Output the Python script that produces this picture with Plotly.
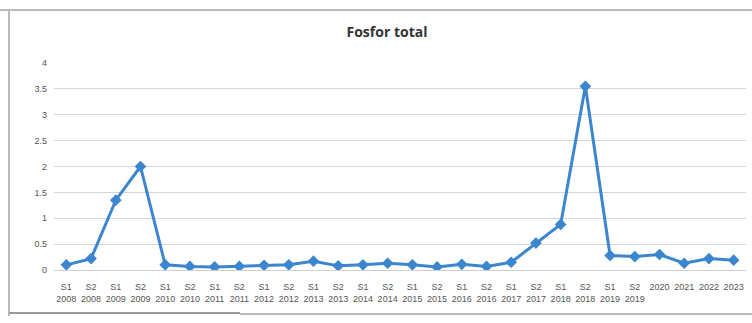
import plotly.graph_objects as go

# Sampling periods (half-years until 2019, then yearly)
periods = [
    "S1<br>2008", "S2<br>2008", "S1<br>2009", "S2<br>2009",
    "S1<br>2010", "S2<br>2010", "S1<br>2011", "S2<br>2011",
    "S1<br>2012", "S2<br>2012", "S1<br>2013", "S2<br>2013",
    "S1<br>2014", "S2<br>2014", "S1<br>2015", "S2<br>2015",
    "S1<br>2016", "S2<br>2016", "S1<br>2017", "S2<br>2017",
    "S1<br>2018", "S2<br>2018", "S1<br>2019", "S2<br>2019",
    "2020", "2021", "2022", "2023",
]

# Total phosphorus
fosfor_total = [
    0.10, 0.22, 1.35, 2.00,
    0.10, 0.07, 0.06, 0.07,
    0.09, 0.10, 0.17, 0.08,
    0.10, 0.13, 0.10, 0.06,
    0.11, 0.07, 0.15, 0.52,
    0.88, 3.55, 0.28, 0.26,
    0.30, 0.13, 0.22, 0.19,
]

y_ticks = [0, 0.5, 1, 1.5, 2, 2.5, 3, 3.5, 4]
y_tick_text = ["0", "0.5", "1", "1.5", "2", "2.5", "3", "3.5", "4"]

W, H = 752, 323
ML, MR, MT, MB = 54, 6, 63, 53
pw, ph = W - ML - MR, H - MT - MB


def px_to_paper_x(px):
    return (px - ML) / pw


def px_to_paper_y(py):
    return (H - MB - py) / ph


line_color = "#3b86cf"

fig = go.Figure(
    go.Scatter(
        x=list(range(len(periods))),
        y=fosfor_total,
        mode="lines+markers",
        line=dict(color=line_color, width=3),
        marker=dict(symbol="diamond", size=9, color=line_color),
        hoverinfo="y",
    )
)

# Page frame around the chart
frame = dict(type="line", xref="paper", yref="paper", line=dict(color="#b9b9b9", width=2))
fig.add_shape(**frame, x0=px_to_paper_x(0), x1=px_to_paper_x(752),
              y0=px_to_paper_y(10), y1=px_to_paper_y(10))
fig.add_shape(**frame, x0=px_to_paper_x(9), x1=px_to_paper_x(9),
              y0=px_to_paper_y(10), y1=px_to_paper_y(316))
fig.add_shape(type="line", xref="paper", yref="paper", line=dict(color="#9a9a9a", width=2),
              x0=px_to_paper_x(9), x1=px_to_paper_x(240),
              y0=px_to_paper_y(313), y1=px_to_paper_y(313))
fig.add_shape(**frame, x0=px_to_paper_x(240), x1=px_to_paper_x(752),
              y0=px_to_paper_y(314), y1=px_to_paper_y(314))

fig.update_layout(
    width=W,
    height=H,
    margin=dict(l=ML, r=MR, t=MT, b=MB),
    paper_bgcolor="white",
    plot_bgcolor="white",
    showlegend=False,
    title=dict(
        text="<b>Fosfor total</b>",
        x=387 / W,
        xanchor="center",
        y=1 - 32 / H,
        yanchor="middle",
        font=dict(family="Open Sans", size=14, color="#333333"),
    ),
    xaxis=dict(
        tickmode="array",
        tickvals=list(range(len(periods))),
        ticktext=periods,
        range=[-0.5, len(periods) - 0.5],
        showgrid=False,
        showline=True,
        linecolor="#cfcfcf",
        linewidth=1,
        ticks="",
        tickangle=0,
        ticklabelstandoff=8,
        tickfont=dict(family="Liberation Sans", size=9, color="#555555"),
        zeroline=False,
        fixedrange=True,
    ),
    yaxis=dict(
        range=[0, 4],
        tickmode="array",
        tickvals=y_ticks,
        ticktext=y_tick_text,
        showgrid=True,
        gridcolor="#d6d6d6",
        gridwidth=1,
        zeroline=False,
        showline=False,
        ticks="",
        ticklabelstandoff=6,
        tickfont=dict(family="Liberation Sans", size=9, color="#555555"),
        fixedrange=True,
    ),
)

fig.write_html("out.html")
